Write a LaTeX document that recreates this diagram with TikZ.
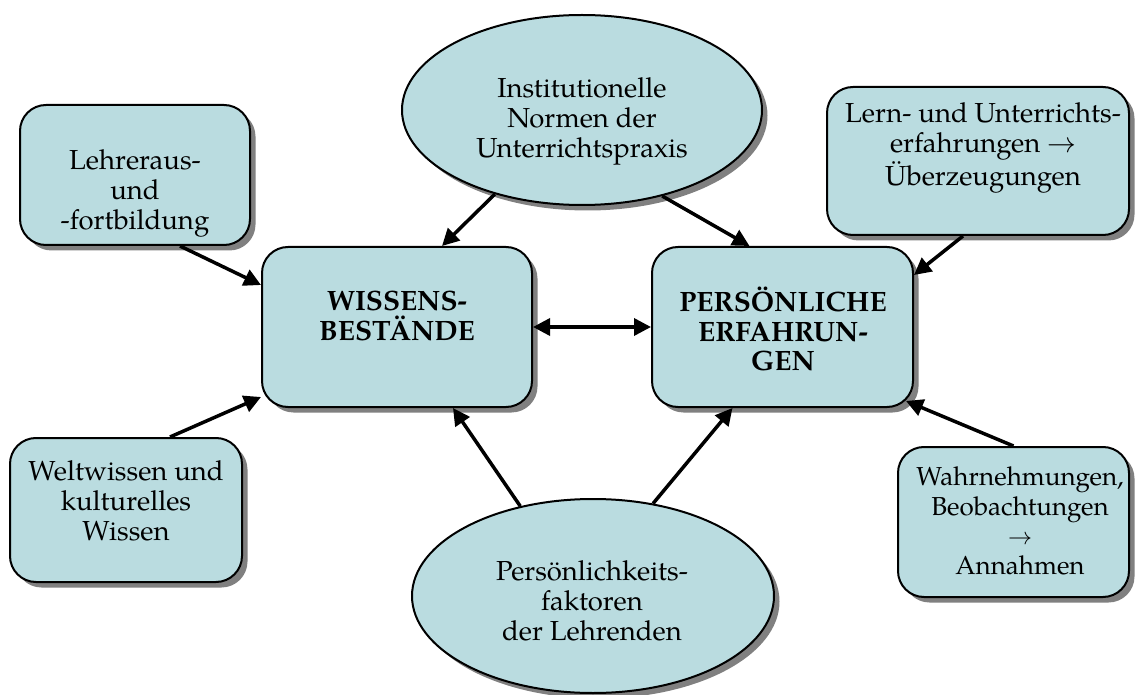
\documentclass[tikz,border=0pt]{standalone}
\usepackage{fontspec}
\setmainfont{texgyrepagella}[Extension=.otf, UprightFont=*-regular, BoldFont=*-bold, ItalicFont=*-italic, BoldItalicFont=*-bolditalic]
\usetikzlibrary{arrows.meta,shapes.geometric,shadows,calc}
\definecolor{boxfill}{RGB}{186,220,224}
\tikzset{
  shape base/.style={draw=black, line width=1pt, fill=boxfill, inner sep=0pt,
    drop shadow={shadow xshift=2.75pt, shadow yshift=-2.75pt, fill=black!50, opacity=1}},
  roundbox/.style={shape base, rectangle, rounded corners=13pt},
  oval/.style={shape base, ellipse},
  label text/.style={align=center, inner sep=0pt, font=\fontsize{13.75}{15}\selectfont},
  small text/.style={align=center, inner sep=0pt, font=\fontsize{13}{14.75}\selectfont},
  head text/.style={align=center, inner sep=0pt, font=\bfseries\fontsize{14}{14.75}\selectfont},
  link/.style={line width=1.75pt, -{Triangle[length=8.5pt,width=8.5pt]}},
  twoway/.style={line width=1.75pt, {Triangle[length=8.5pt,width=8.5pt]}-{Triangle[length=8.5pt,width=8.5pt]}},
}
\begin{document}
\begin{tikzpicture}[x=0.5pt,y=-0.5pt]
\useasboundingbox (0,0) rectangle (1135,695);

% shapes
\node[roundbox, minimum width=115pt, minimum height=70pt] (lehr) at (135,175) {};
\node[roundbox, minimum width=151pt, minimum height=74pt] (lern) at (978,161) {};
\node[roundbox, minimum width=135pt, minimum height=80pt] (wis) at (397,327) {};
\node[roundbox, minimum width=130.5pt, minimum height=80pt] (pers) at (782.5,327) {};
\node[roundbox, minimum width=116pt, minimum height=72pt] (welt) at (126,510) {};
\node[roundbox, minimum width=115.5pt, minimum height=75pt] (wahr) at (1013.5,522) {};
\node[oval, minimum width=180pt, minimum height=95pt] (inst) at (582,110) {};
\node[oval, minimum width=181pt, minimum height=97pt] (pk) at (593,596) {};

% texts
\node[label text] (lehr-t) at (135,193) {Lehreraus-\\und\\-fortbildung};
\node[label text] (inst-t) at (582,121) {Institutionelle\\Normen der\\Unterrichtspraxis};
\node[label text] (lern-t) at (983,148) {Lern- und Unterrichts-\\erfahrungen $\rightarrow$\\Überzeugungen};
\node[head text] (wis-t) at (397,316) {WISSENS-\\BESTÄNDE};
\node[head text] (pers-t) at (783,329) {PERSÖNLICHE\\ERFAHRUN-\\GEN};
\node[label text] (welt-t) at (126,501) {Weltwissen und\\kulturelles\\Wissen};
\node[small text] (wahr-t) at (1020,521) {Wahrnehmungen,\\Beobachtungen\\$\rightarrow$\\Annahmen};
\node[label text] (pk-t) at (592,601) {Persönlichkeits-\\faktoren\\der Lehrenden};

% connectors
\draw[link] ($(lehr.south)+(45,0)$) -- ($(wis.west)+(0,-42)$);
\draw[link] ($(welt.north)+(44,0)$) -- ($(wis.west)+(0,70)$);
\draw[link] (inst.224) -- ($(wis.north)+(45,0)$);
\draw[link] (inst.313) -- ($(pers.north)+(-33,0)$);
\draw[link] ($(lern.south)+(-15,0)$) -- ($(pers.east)+(0,-52)$);
\draw[link] (wahr.north) -- ($(pers.south east)+(-8,-7)$);
\draw[link] (pk.129) -- ($(wis.south)+(56,0)$);
\draw[link] (pk.57) -- ($(pers.south)+(-50,0)$);
\draw[twoway] (wis.east) -- (pers.west);
\end{tikzpicture}
\end{document}
